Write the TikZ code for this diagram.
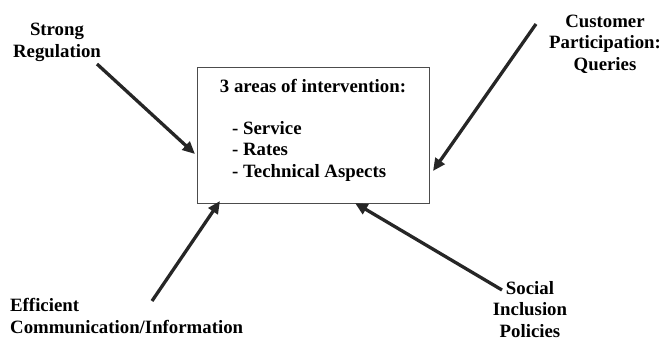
\documentclass[tikz,border=0pt]{standalone}
\usepackage{fontspec}
\setmainfont{Liberation Serif}
\usetikzlibrary{arrows.meta}
\begin{document}
\begin{tikzpicture}[x=1pt,y=-1pt,
  lbl/.style={font=\fontsize{18.8}{21.5}\selectfont\bfseries, inner sep=0pt, align=center, anchor=base},
  bigarrow/.style={draw=black!85, line width=3.3pt, -{Triangle[length=12.5pt,width=11pt]}},
  areabox/.style={draw=black!70, line width=1pt, minimum width=232pt, minimum height=136pt, inner sep=0pt}]
  \useasboundingbox (0,0) rectangle (665,340);

  % central box (multi-line labels are placed by the baseline of their last line)
  \node[areabox] (box) at (313,135.5) {};
  \node[lbl] (title) at (313,92) {3 areas of intervention:};
  \node[lbl, align=left, anchor=base west] (items) at (232,177)
    {- Service\\- Rates\\- Technical Aspects};

  % surrounding labels
  \node[lbl] (reg) at (57,57) {Strong\\Regulation};
  \node[lbl] (cust) at (605,70) {Customer\\Participation:\\Queries};
  \node[lbl, align=left, anchor=base west] (comm) at (10,333) {Efficient\\Communication/Information};
  \node[lbl] (soc) at (530,337) {Social\\Inclusion\\Policies};

  % arrow ends
  \coordinate (regS) at (97,64);
  \coordinate (regE) at (195,154);
  \coordinate (custS) at (536,24);
  \coordinate (custE) at (433,171);
  \coordinate (commS) at (152,301);
  \coordinate (commE) at (220,201);
  \coordinate (socS) at (502,290);
  \coordinate (socE) at (355,203);

  \draw[bigarrow] (regS) -- (regE);
  \draw[bigarrow] (custS) -- (custE);
  \draw[bigarrow] (commS) -- (commE);
  \draw[bigarrow] (socS) -- (socE);
\end{tikzpicture}
\end{document}
